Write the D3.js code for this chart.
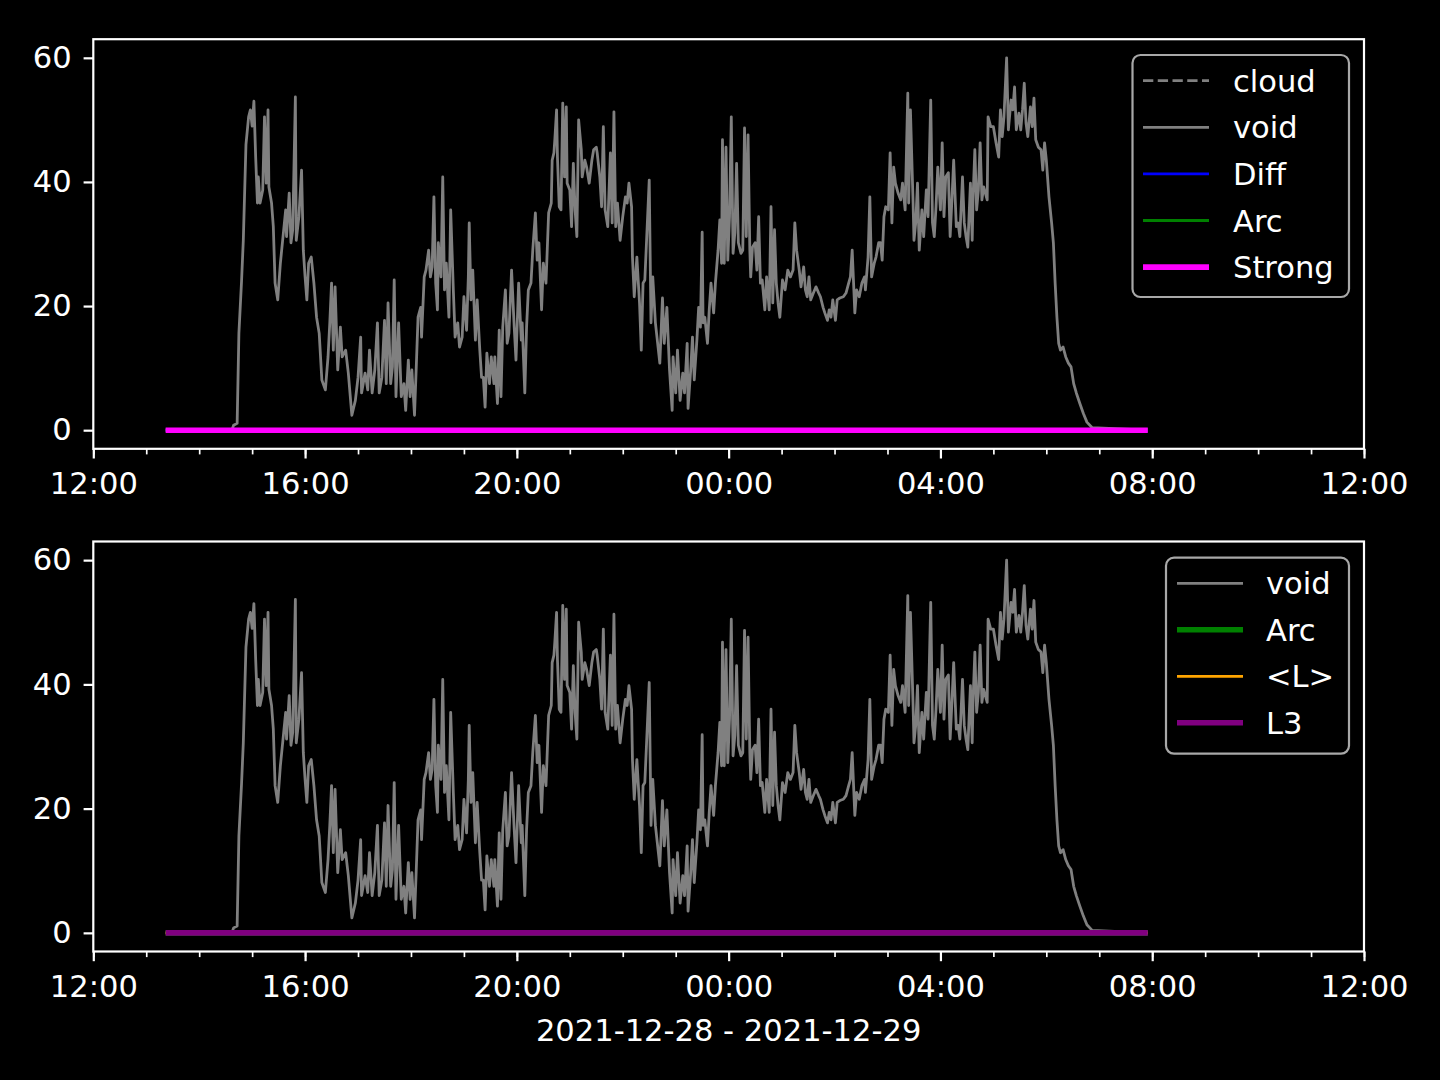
<!DOCTYPE html>
<html><head><meta charset="utf-8">
<script src="https://cdn.jsdelivr.net/npm/d3@7"></script>
<style>body{margin:0;background:#000}svg{display:block}</style>
</head><body><svg id="c" width="1440" height="1080"></svg>
<script>
// ---- data (minutes after 2021-12-28 12:00) ----
const voidMinutes = [82,157,159,163,165,168,170,173,176,178,180,182,184,186,187,189,192,194,196,198,199,202,204,206,209,212,215,218,219,222,224,226,229,230,233,236,238,240,242,244,247,250,253,256,259,263,266,268,270,272,274,277,280,282,286,289,293,297,300,303,304,308,311,313,316,319,322,324,327,330,332,334,337,339,341,343,346,349,352,354,357,359,361,364,366,368,371,372,375,377,380,382,384,386,388,390,391,394,396,398,400,403,405,408,410,413,415,418,420,423,425,426,428,430,433,435,438,440,442,444,446,449,451,454,455,458,460,462,464,467,469,471,474,477,479,482,485,486,489,491,493,496,498,501,503,505,508,510,513,516,519,520,522,523,525,526,528,530,532,534,536,537,540,542,544,546,548,550,553,554,557,559,562,565,567,570,571,574,576,578,580,583,586,588,590,592,594,597,600,603,605,607,610,611,613,616,619,621,623,625,627,630,632,634,637,642,645,647,650,653,656,657,660,662,665,668,670,673,674,677,679,681,684,686,688,690,691,693,696,698,700,703,705,708,710,712,713,715,717,719,721,723,725,727,729,731,734,736,738,740,742,744,745,747,750,752,754,756,758,761,763,766,768,770,772,774,776,778,781,784,787,790,793,795,797,800,802,805,807,809,811,813,816,819,822,824,827,829,832,834,836,838,841,843,846,850,853,856,858,860,863,865,868,871,874,875,878,880,882,885,887,890,892,894,896,898,901,903,905,907,909,912,915,917,920,923,924,926,929,930,932,934,936,939,941,944,946,949,951,953,955,957,960,962,964,966,969,971,973,975,978,980,982,985,987,989,991,994,996,997,999,1001,1003,1005,1007,1009,1013,1014,1017,1020,1023,1026,1028,1030,1032,1035,1037,1040,1042,1044,1046,1049,1051,1053,1055,1057,1059,1062,1064,1066,1068,1071,1074,1076,1078,1080,1083,1086,1088,1090,1092,1094,1096,1099,1102,1105,1108,1111,1114,1118,1122,1126,1132,1195];
const voidValues = [0,0,0.8,1.1,15.6,24,30.6,46,50.5,51.6,49,53,44,36.6,40.8,36.6,38.7,50.5,39.8,51.6,39.2,36.6,32.8,23.7,21,26.9,31.2,35.5,31.2,38.2,30.2,32.3,53.7,30.6,34.4,41.9,29,24.7,21,26.9,27.9,23.7,18.2,15.6,8.1,6.5,11.8,17.3,23.7,12.9,23.1,9.7,16.6,11.8,12.9,9.2,2.4,4.8,8.5,15,6,9.2,6.5,12.9,6,9.7,17.3,6,8.5,17.7,7.5,20.5,7.5,10.2,24.2,5.4,17.3,5.4,7.5,3.2,11.3,5.4,9.7,2.4,10.2,18.2,19.8,15,24.7,25.8,29,24.7,26.3,37.6,23.7,19.4,30.2,24.7,40.8,22.6,26.9,18.2,35.5,22.6,15,17.3,13.4,15,21.5,16.1,24.7,33.4,21,25.8,14.5,21,12.9,8.5,8.5,3.7,12.4,7.5,11.8,7.5,11.8,4.3,16.1,5.4,16.6,22.6,14,15.6,25.8,16.6,11.3,23.7,14.5,17.3,6,16.6,22.6,23.7,29,35,27.4,30.2,19.4,26.9,23.7,35,36.6,43.5,44.7,46.8,51.6,44,36,35.5,52.7,40.8,52.1,39.8,38.7,32.8,43,35.5,31.2,50,45.2,40.8,43.5,42.4,39.8,43.5,45.2,45.6,44.7,40.8,36,48.9,35.5,32.8,44.7,33.4,51.3,32.8,36.6,30.6,34.4,37.6,36.6,39.8,36,27.9,21.5,27.9,20.5,12.9,23.7,24.2,30.6,40.3,17.3,24.7,17.3,10.8,21.3,14,19.8,9.7,3.2,11.8,6,12.9,4.8,9.2,6,14,3.5,9.7,15,8.1,14.5,19.8,16.6,31.9,17.3,18.2,14,19.4,23.7,18.9,23.7,29,33.9,26.9,46.8,26.9,45.6,27.4,34.4,50.5,28.5,31.8,43,30.2,28.5,29,48.7,31.2,47.6,29,24.7,29.5,30.2,25.8,34.4,23.7,24.2,19.4,24.7,19.4,36,20.5,32.3,23.7,20.5,18.2,24.2,22.6,25.8,24.7,25.8,33.4,29,25.8,23.1,26.3,22.6,21.5,24.7,21,22.1,23.1,22.1,21.5,19.8,18.9,17.7,19.4,18.2,21,17.7,21,21.3,21.5,22.1,23.7,24.7,29,18.9,22.6,21.5,23.7,24.7,22.6,27.9,37.6,24.7,26.9,27.9,30.2,30.2,27.4,34.4,36,35.5,44.7,33.4,42.4,39.8,38.2,37.1,39.8,35.5,54.3,36.6,51.6,36.6,30.6,33.4,39.8,29,35.5,31.2,38.7,34.4,53.2,33.4,31.2,36,42.4,35.5,46.3,34.4,40.8,41.5,31.2,37.1,43.5,32.8,33.4,31.2,40.8,33.4,31.2,29.5,39.8,30.6,37.6,45.2,35.5,38.7,46.3,37.1,39.2,37.1,50.5,48.9,48.9,46.3,44,51.6,47.3,50.5,60,48.4,53.2,51.6,55.3,48.4,51.1,48.4,51.6,55.9,49.5,47.3,52.1,48.9,53.5,46.8,45.6,45.2,41.9,46.3,43.5,37.6,33.4,30.2,23.7,18.2,14,12.9,13.4,11.8,10.8,10.2,7.5,6,4.3,2.7,1.3,0.4,0];
const flatMinutes = [82, 1195];
const flatValues = [0, 0];
const yTickValues = [0, 20, 40, 60];
const xTickHours = [0, 4, 8, 12, 16, 20, 24];
const xTickLabels = ["12:00","16:00","20:00","00:00","04:00","08:00","12:00"];
const xLabelText = "2021-12-28 - 2021-12-29";
const topNames = ["cloud","void","Diff","Arc","Strong"];
const bottomNames = ["void","Arc","<L>","L3"];

// ---- styles ----
const FONT = "DejaVu Sans, sans-serif";
const FS = 30.56;
const styles = {
  "cloud": {color:"#808080", w:2.78, dash:"10.3,4.45"},
  "void": {color:"#808080", w:2.78},
  "Diff": {color:"#0000ff", w:2.78},
  "Arc_top": {color:"#008000", w:2.78},
  "Strong": {color:"#ff00ff", w:5.56},
  "Arc_bot": {color:"#008000", w:5.56},
  "<L>": {color:"#ffa500", w:2.78},
  "L3": {color:"#800080", w:5.56}
};

const base = new Date(2021, 11, 28, 12, 0);
const toDate = m => d3.timeMinute.offset(base, m);
const voidData = voidMinutes.map((m, i) => ({t: toDate(m), v: voidValues[i]}));
const flatData = flatMinutes.map((m, i) => ({t: toDate(m), v: flatValues[i]}));

const svg = d3.select("#c");
svg.append("rect").attr("width",1440).attr("height",1080).attr("fill","#000");

const left = 93.3, right = 1364;
const x = d3.scaleTime().domain([base, d3.timeHour.offset(base, 24)]).range([left, right]);

function panel(top, bottom, series, legend) {
  const y = d3.scaleLinear().domain([-3, 63]).range([bottom, top]);
  const g = svg.append("g");
  const line = d3.line().x(d => x(d.t)).y(d => y(d.v));
  series.forEach(s => {
    const st = styles[s.key];
    g.append("path").datum(s.data).attr("d", line)
      .attr("fill","none").attr("stroke", st.color).attr("stroke-width", st.w)
      .attr("stroke-dasharray", st.dash || null).attr("stroke-linejoin","round");
  });
  const minor = d3.axisBottom(x).ticks(d3.timeHour.every(1)).tickSize(5.6).tickFormat("");
  const gm = svg.append("g").attr("transform", `translate(0,${bottom})`).call(minor);
  gm.select(".domain").remove();
  gm.selectAll("line").attr("stroke","#fff").attr("stroke-width",1.67);
  const major = d3.axisBottom(x).tickValues(xTickHours.map(h => d3.timeHour.offset(base, h)))
    .tickSize(9.7).tickPadding(13.8).tickFormat((d, i) => xTickLabels[i]);
  const gx = svg.append("g").attr("transform", `translate(0,${bottom})`).call(major);
  gx.select(".domain").remove();
  gx.selectAll("line").attr("stroke","#fff").attr("stroke-width",2.2);
  gx.selectAll("text").attr("fill","#fff").style("font-family",FONT).style("font-size",FS+"px");
  const ya = d3.axisLeft(y).tickValues(yTickValues).tickSize(9.7).tickPadding(12);
  const gy = svg.append("g").attr("transform", `translate(${left},0)`).call(ya);
  gy.select(".domain").remove();
  gy.selectAll("line").attr("stroke","#fff").attr("stroke-width",2.2);
  gy.selectAll("text").attr("fill","#fff").style("font-family",FONT).style("font-size",FS+"px");
  svg.append("rect").attr("x",left).attr("y",top).attr("width",right-left).attr("height",bottom-top)
    .attr("fill","none").attr("stroke","#fff").attr("stroke-width",2.2);
  const L = legend;
  const lg = svg.append("g");
  lg.append("rect").attr("x",L.x).attr("y",L.y).attr("width",L.w).attr("height",L.h)
    .attr("rx",8).attr("fill","#000").attr("fill-opacity",0.8)
    .attr("stroke","#a8a8a8").attr("stroke-width",2.2);
  series.forEach((s, i) => {
    const st = styles[s.key];
    const cy = L.y + L.first + i * L.step;
    lg.append("line").attr("x1",L.lx1).attr("x2",L.lx2).attr("y1",cy).attr("y2",cy)
      .attr("stroke",st.color).attr("stroke-width",st.w).attr("stroke-dasharray", st.dash || null);
    lg.append("text").attr("x",L.tx).attr("y",cy).attr("dy","0.36em").text(s.name)
      .attr("fill","#fff").style("font-family",FONT).style("font-size",FS+"px");
  });
}

panel(39.2, 448.8, [
  {name:topNames[0], key:"cloud", data:flatData},
  {name:topNames[1], key:"void", data:voidData},
  {name:topNames[2], key:"Diff", data:flatData},
  {name:topNames[3], key:"Arc_top", data:flatData},
  {name:topNames[4], key:"Strong", data:flatData}
], {x:1132.5, y:55, w:216.5, h:242, first:25.7, step:46.6, lx1:1143, lx2:1209, tx:1233});

panel(541.5, 951.5, [
  {name:bottomNames[0], key:"void", data:voidData},
  {name:bottomNames[1], key:"Arc_bot", data:flatData},
  {name:bottomNames[2], key:"<L>", data:flatData},
  {name:bottomNames[3], key:"L3", data:flatData}
], {x:1166, y:557.7, w:183, h:196, first:25.6, step:46.5, lx1:1177, lx2:1243, tx:1266});

svg.append("text").attr("x",(left+right)/2).attr("y",1041).attr("text-anchor","middle")
  .text(xLabelText).attr("fill","#fff").style("font-family",FONT).style("font-size",FS+"px");
</script></body></html>
